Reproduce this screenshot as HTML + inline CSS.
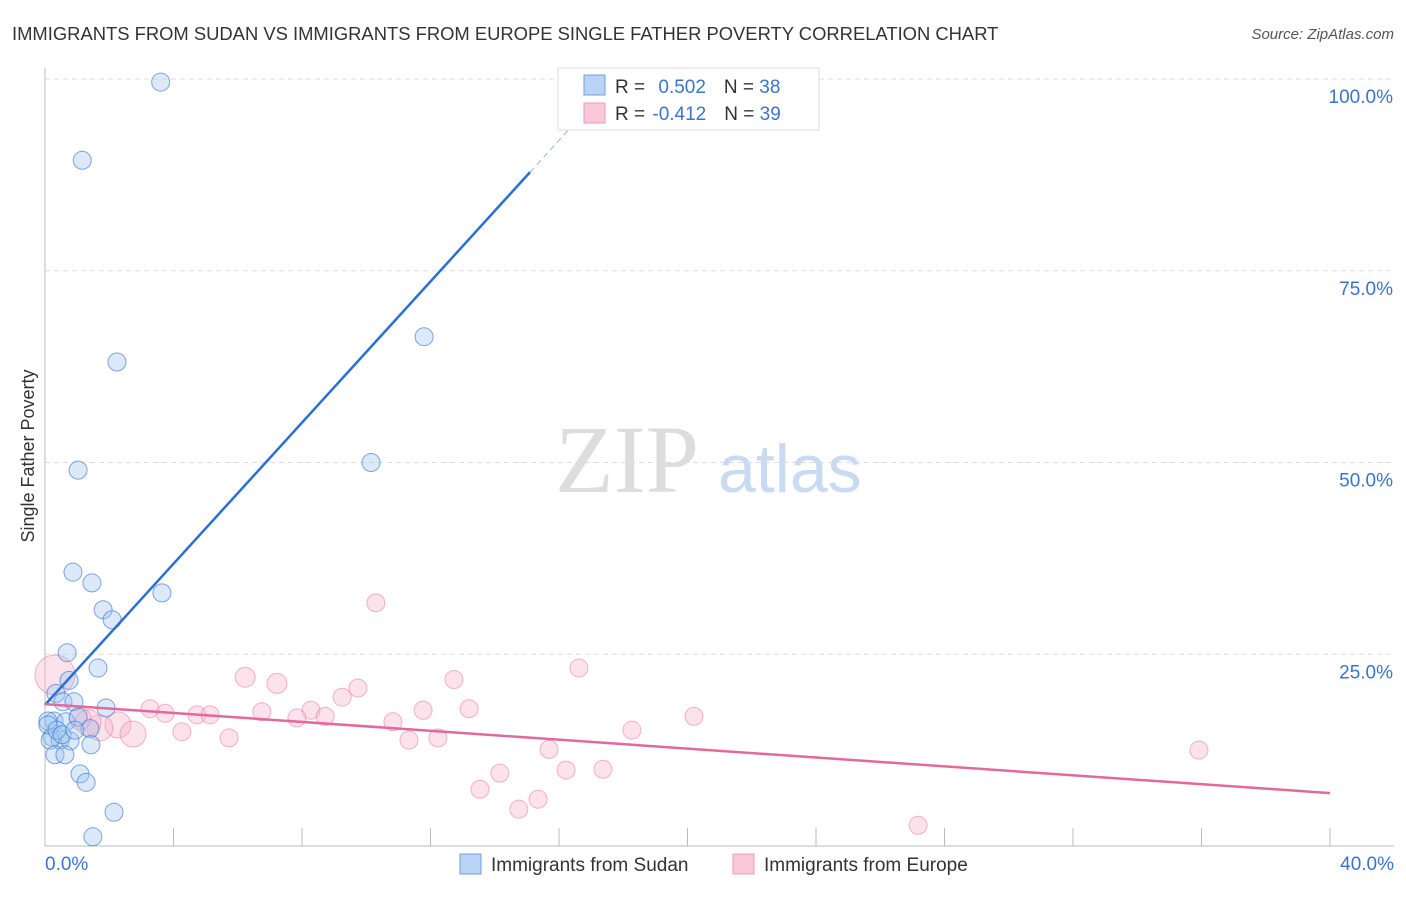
<!DOCTYPE html>
<html><head><meta charset="utf-8"><style>
body{margin:0;background:#fff;font-family:"Liberation Sans",sans-serif}
svg text{font-family:"Liberation Sans",sans-serif}
</style></head><body>
<svg id="chart" width="1406" height="892">
<text x="12" y="40" font-size="18.4" fill="#333">IMMIGRANTS FROM SUDAN VS IMMIGRANTS FROM EUROPE SINGLE FATHER POVERTY CORRELATION CHART</text>
<text x="1394" y="39" font-size="15" fill="#555" font-style="italic" text-anchor="end">Source: ZipAtlas.com</text>
<text transform="translate(34,456) rotate(-90)" font-size="18" fill="#333" text-anchor="middle">Single Father Poverty</text>
<text x="555" y="492" font-size="96" fill="#ddd" style="font-family:'Liberation Serif',serif">ZIP</text>
<text x="718" y="492" font-size="68" fill="#c9daf3">atlas</text>
<g id="grid"></g><g id="pts"></g><g id="lines"></g>
<g>
<rect x="558" y="68" width="261" height="62" fill="#fff" stroke="#ddd"/>
<rect x="584" y="75" width="21" height="20" fill="#b9d3f5" stroke="#6fa0e0"/>
<rect x="584" y="103" width="21" height="20" fill="#fac8d8" stroke="#ee9ab5"/>
<text x="615" y="93" font-size="19" fill="#333">R = <tspan fill="#3a73d0" dx="8">0.502</tspan><tspan dx="18" fill="#333">N = </tspan><tspan fill="#3a73d0">38</tspan></text>
<text x="615" y="120" font-size="19" fill="#333">R = <tspan fill="#3a73d0" dx="2">-0.412</tspan><tspan dx="18" fill="#333">N = </tspan><tspan fill="#3a73d0">39</tspan></text>
</g>
<g>
<rect x="460" y="854" width="21" height="20" fill="#b9d3f5" stroke="#6fa0e0"/>
<text x="491" y="871" font-size="19" fill="#333">Immigrants from Sudan</text>
<rect x="733" y="854" width="21" height="20" fill="#fac8d8" stroke="#ee9ab5"/>
<text x="764" y="871" font-size="19" fill="#333">Immigrants from Europe</text>
</g>
</svg>
<script>
const sudanX=[3.6,1.16,2.24,11.8,1.03,10.15,0.87,1.46,3.64,1.81,2.09,0.69,1.65,0.75,0.34,0.56,0.9,1.9,0.28,0.65,1.03,0.09,1.4,0.22,0.47,0.78,1.43,0.16,0.31,0.62,1.09,1.28,2.15,1.49,0.09,0.37,0.53,0.93];
const sudanY=[99.6,89.4,63.1,66.4,49.0,50.0,35.7,34.3,33.0,30.8,29.5,25.2,23.2,21.6,19.9,18.8,18.8,18.0,16.3,16.2,16.8,16.3,15.3,14.2,13.8,13.7,13.2,13.8,11.9,11.9,9.4,8.3,4.4,1.2,15.8,15.1,14.5,15.1];
const europeX=[0.31,6.23,7.22,10.3,16.62,12.73,9.74,9.25,8.28,13.2,11.77,3.27,3.74,4.73,5.14,6.75,7.84,8.72,10.83,4.26,5.73,11.33,12.23,18.27,20.2,2.27,1.71,1.34,2.74,15.69,14.16,16.22,17.37,13.54,14.75,15.35,27.18,35.92,1.09];
const europeY=[22.3,22.0,21.2,31.7,23.2,21.7,20.6,19.4,17.7,17.9,17.7,17.9,17.3,17.1,17.1,17.5,16.7,16.9,16.2,14.9,14.1,13.8,14.1,15.1,16.9,15.8,15.4,16.1,14.6,12.6,9.5,9.9,10.0,7.4,4.8,6.1,2.7,12.5,16.6];
const europeR=[20,10,10,9,9,9,9,9,9,9,9,9,9,9,9,9,9,9,9,9,9,9,9,9,9,13,13,13,13,9,9,9,9,9,9,9,9,9,11];
const xTicks=[0,10,20,30,40];
const yTicks=[25,50,75,100];
const yTickLabels=["25.0%","50.0%","75.0%","100.0%"];
const fits={sudanIntercept:18.4,sudanSlope:4.6,europeIntercept:18.5,europeSlope:-0.29};
const X=v=>45+v*32.125, Y=v=>846-v*7.67;
const NS="http://www.w3.org/2000/svg";
function mk(tag,attrs,parent){const e=document.createElementNS(NS,tag);for(const k in attrs)e.setAttribute(k,attrs[k]);document.getElementById(parent).appendChild(e);return e;}
yTicks.forEach((t,i)=>{
 const g=mk('line',{x1:45,x2:1394,y1:Y(t),y2:Y(t),stroke:'#ddd','stroke-dasharray':'5,4'},'grid');
 
 
 const l=mk('text',{x:1393,y:Y(t)+24,'font-size':19,fill:'#3a73d0','text-anchor':'end'},'grid');
 l.textContent=yTickLabels[i];
 
 
});
const ax=mk('line',{x1:45,x2:45,y1:68,y2:846,stroke:'#bbb'},'grid');


const bx=mk('line',{x1:45,x2:1394,y1:846,y2:846,stroke:'#bbb'},'grid');


for(let v=0;v<=40;v+=4){
 const t=mk('line',{x1:X(v),x2:X(v),y1:828,y2:846,stroke:'#bbb'},'grid');
 
 
}
[[0,'0.0%','start',45],[40,'40.0%','end',1394]].forEach(a=>{
 const l=mk('text',{x:a[3],y:870,'font-size':19,fill:'#3a73d0','text-anchor':a[2]},'grid');
 l.textContent=a[1];
 
 
});
europeX.forEach((x,i)=>{
 const c=mk('circle',{cx:X(x),cy:Y(europeY[i]),r:europeR[i],fill:'rgba(248,180,202,0.38)',stroke:'rgba(232,130,165,0.6)'},'pts');
 
 
});
sudanX.forEach((x,i)=>{
 const c=mk('circle',{cx:X(x),cy:Y(sudanY[i]),r:9,fill:'rgba(160,196,240,0.38)',stroke:'rgba(60,120,210,0.65)'},'pts');
 
 
});
const sx2=15.1;
const bl=mk('line',{x1:X(0),y1:Y(fits.sudanIntercept),x2:X(sx2),y2:Y(fits.sudanIntercept+fits.sudanSlope*sx2),stroke:'#2a6fd6','stroke-width':2.5},'lines');


const sx3=16.7;
const bd=mk('line',{x1:X(sx2),y1:Y(fits.sudanIntercept+fits.sudanSlope*sx2),x2:X(sx3),y2:Y(fits.sudanIntercept+fits.sudanSlope*sx3),stroke:'#9ab5e6','stroke-width':1,'stroke-dasharray':'6,4'},'lines');


const pl=mk('line',{x1:X(0),y1:Y(fits.europeIntercept),x2:X(40),y2:Y(fits.europeIntercept+fits.europeSlope*40),stroke:'#e4689a','stroke-width':2.5},'lines');


</script>
</body></html>
